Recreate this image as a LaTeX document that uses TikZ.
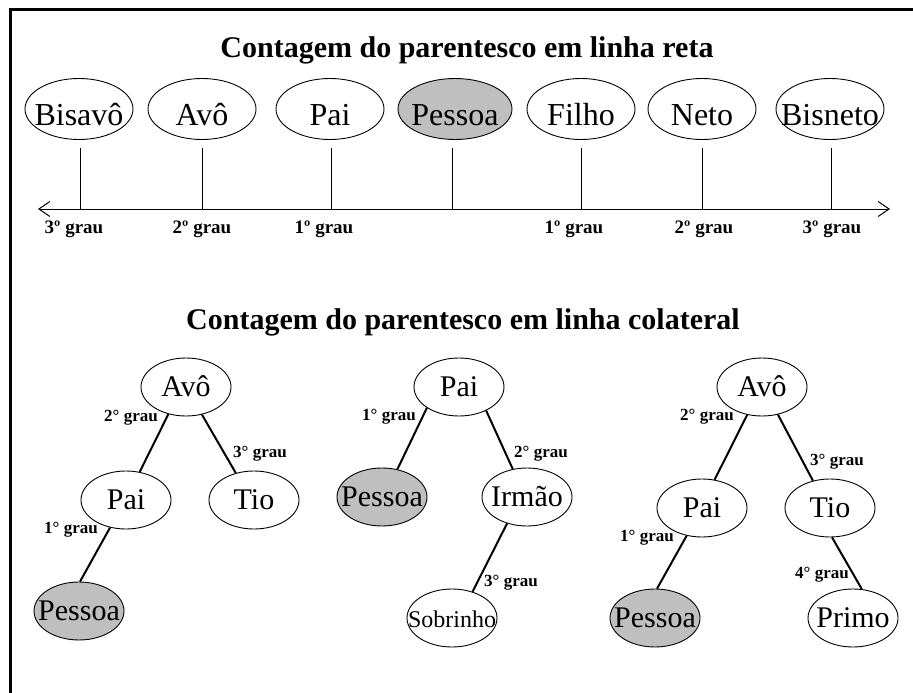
\documentclass[tikz,border=0pt]{standalone}
\usepackage{fontspec}
\setmainfont{Liberation Serif}
\usetikzlibrary{arrows.meta,positioning,shapes.geometric}
\newcommand{\nome}[1]{\makebox[0pt]{#1}}
\begin{document}
\begin{tikzpicture}
        [x=1pt, y=-1pt,
        pes/.style={ellipse, draw, line width=0.9pt, inner sep=0pt, minimum width=108pt, minimum height=61pt, text height=32pt, text depth=0pt, font=\fontsize{32}{36}\selectfont},
        pesGray/.style={pes, fill=gray!50, minimum width=114pt},
        arv/.style={pes, minimum width=90pt, minimum height=58pt, text height=20pt, text depth=2pt, font=\fontsize{30}{34}\selectfont},
        arvGray/.style={arv, fill=gray!50},
        grau/.style={font=\fontsize{19}{22}\selectfont\bfseries, inner sep=0pt},
        grauc/.style={font=\fontsize{17}{20}\selectfont\bfseries, inner sep=0pt},
        titulo/.style={font=\fontsize{30}{34}\selectfont\bfseries, inner sep=0pt},
        liga/.style={line width=2pt}]
        \useasboundingbox (0,0) rectangle (913,693);
        \draw[line width=3pt] (10,693) -- (10,10) -- (913,10);

        % linha reta
        \node[titulo] (tit1) at (467,50) {Contagem do parentesco em linha reta};
        \node[pes] (bis) at (79,109) {\nome{Bisavô}};
        \node[pes] (avo) at (202,109) {\nome{Avô}};
        \node[pes] (pai) at (330,109) {\nome{Pai}};
        \node[pesGray] (pes) at (455,109) {\nome{Pessoa}};
        \node[pes] (fil) at (581,109) {\nome{Filho}};
        \node[pes] (net) at (702,109) {\nome{Neto}};
        \node[pes] (bisn) at (830,109) {\nome{Bisneto}};

        \coordinate (esq) at (38,209);
        \coordinate (dir) at (890,209);
        \draw[line width=1pt, {Straight Barb[length=11pt,width=15pt]}-{Straight Barb[length=11pt,width=15pt]}] (esq) -- (dir);
        \foreach \n/\x in {bis/80, avo/202, pai/331, pes/452, fil/581, net/702, bisn/831} {
            \coordinate (t\n) at (\x,209);
            \draw[line width=1pt, shorten <=8pt] (\n.south -| t\n) -- (t\n);
        }
        \node[grau] (g3e) at (74,229) {3º grau};
        \node[grau] (g2e) at (202,229) {2º grau};
        \node[grau] (g1e) at (324,229) {1º grau};
        \node[grau] (g1d) at (574,229) {1º grau};
        \node[grau] (g2d) at (704,229) {2º grau};
        \node[grau] (g3d) at (832,229) {3º grau};

        % linha colateral
        \node[titulo] (tit2) at (463,322) {Contagem do parentesco em linha colateral};

        \node[arv] (avoA) at (186,387) {\nome{Avô}};
        \node[arv] (paiA) at (126,500) {\nome{Pai}};
        \node[arv] (tioA) at (254,500) {\nome{Tio}};
        \node[arvGray] (pesA) at (79,611) {\nome{Pessoa}};
        \draw[liga] (avoA.237) -- (paiA.64);
        \draw[liga] (avoA.-60) -- (tioA.124);
        \draw[liga] (paiA.240) -- (pesA.88);
        \node[grauc] at (131,418) {2° grau};
        \node[grauc] at (260,454) {3° grau};
        \node[grauc] at (71,530) {1° grau};

        \node[arv] (paiB) at (459,387) {\nome{Pai}};
        \node[arvGray] (pesB) at (382,497) {\nome{Pessoa}};
        \node[arv] (irmB) at (527,497) {\nome{Irmão}};
        \node[arv, font=\fontsize{24}{28}\selectfont] (sobB) at (452,618) {\nome{Sobrinho}};
        \draw[liga] (paiB.213) -- (pesB.61);
        \draw[liga] (paiB.-41) -- (irmB.117);
        \draw[liga] (irmB.233) -- (sobB.52);
        \node[grauc] at (389,417) {1° grau};
        \node[grauc] at (541,454) {2° grau};
        \node[grauc] at (511,583) {3° grau};

        \node[arv] (avoC) at (762,387) {\nome{Avô}};
        \node[arv] (paiC) at (702,508) {\nome{Pai}};
        \node[arv] (tioC) at (830,508) {\nome{Tio}};
        \node[arvGray] (pesC) at (655,618) {\nome{Pessoa}};
        \node[arv] (priC) at (853,618) {\nome{Primo}};
        \draw[liga] (avoC.242) -- (paiC.66);
        \draw[liga] (avoC.-60) -- (tioC.122);
        \draw[liga] (paiC.241) -- (pesC.86);
        \draw[liga] (tioC.-86) -- (priC.73);
        \node[grauc] at (707,417) {2° grau};
        \node[grauc] at (837,462) {3° grau};
        \node[grauc] at (647,538) {1° grau};
        \node[grauc] at (822,575) {4° grau};

    \end{tikzpicture}
\end{document}
